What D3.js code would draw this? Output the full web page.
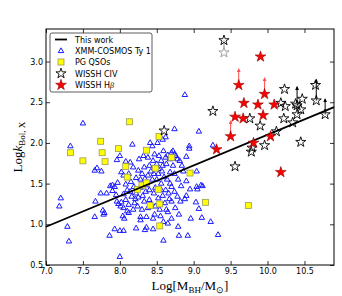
<!DOCTYPE html>
<html lang="en">
<head>
  <meta charset="UTF-8">
  <script src="https://d3js.org/d3.v7.min.js"></script>
  <title>kBol vs MBH</title>
  <style>
    body { margin: 0; background: #fff; }
    .tick text { font-family: "DejaVu Sans", sans-serif; font-size: 8px; fill: #000; }
    .lab { font-family: "Liberation Serif", serif; font-size: 13px; fill: #000; }
    .leg { font-family: "DejaVu Sans", sans-serif; font-size: 8px; fill: #000; }
  </style>
</head>
<body>
<div id="chart"></div>
<script>

// XMM-COSMOS type 1 AGN
var xmmCosmos = [
  [7.20,1.32],[7.18,1.22],[7.29,0.97],[7.31,0.79],[7.33,1.96],[7.50,2.24],[7.66,1.66],[7.69,1.69],
  [7.75,1.65],[7.67,1.28],[7.66,1.09],[7.74,1.38],[7.82,1.38],[7.77,1.17],[7.78,1.12],[7.79,1.14],
  [7.86,0.86],[7.93,0.94],[8.00,0.92],[8.05,0.92],[8.00,0.60],[7.87,1.47],[7.93,1.46],[7.90,1.41],
  [7.96,1.28],[7.98,1.25],[8.02,1.27],[8.08,1.30],[8.12,1.24],[8.01,1.22],[8.05,1.20],[8.10,1.16],
  [8.04,1.10],[8.06,1.07],[8.12,1.14],[8.18,1.18],[8.21,1.31],[8.22,0.95],[8.24,1.22],[8.28,1.09],
  [8.14,1.40],[8.25,1.33],[8.28,1.05],[8.17,1.98],[8.00,1.84],[7.96,1.79],[8.08,1.77],[8.26,1.80],
  [8.32,1.84],[8.02,1.64],[8.05,1.60],[8.22,1.57],[8.28,1.55],[7.90,1.48],[7.97,1.51],[8.08,1.49],
  [8.19,1.46],[8.15,1.52],[8.12,1.62],[8.18,1.70],[8.25,1.66],[8.30,1.62],[8.33,1.70],[8.14,1.76],
  [8.22,1.38],[8.31,1.35],[8.16,1.34],[8.33,1.28],[8.30,1.18],[8.10,1.42],[8.05,1.37],[8.20,1.26],
  [7.95,1.36],[8.41,2.00],[8.44,1.96],[8.51,2.00],[8.58,2.04],[8.62,2.07],[8.74,2.17],[8.88,2.59],
  [9.07,2.14],[9.26,1.97],[8.94,1.96],[8.94,1.93],[8.47,1.86],[8.59,1.90],[8.65,1.85],[8.70,1.88],
  [8.74,1.86],[8.76,1.84],[8.72,1.90],[8.81,1.78],[8.90,1.83],[8.56,1.78],[8.63,1.74],[8.72,1.72],
  [8.40,1.72],[8.45,1.78],[8.50,1.74],[8.38,1.82],[8.42,1.65],[9.04,1.65],[8.86,1.65],[8.68,1.64],
  [8.57,1.65],[8.52,1.62],[8.60,1.58],[8.64,1.55],[8.79,1.55],[8.90,1.53],[8.70,1.46],[8.83,1.47],
  [9.04,1.46],[9.10,1.48],[8.56,1.50],[8.48,1.45],[8.44,1.55],[8.38,1.60],[8.62,1.42],[8.66,1.38],
  [8.58,1.35],[8.52,1.32],[8.46,1.38],[8.40,1.42],[8.36,1.48],[8.74,1.40],[8.78,1.34],[8.82,1.28],
  [8.95,1.43],[9.05,1.43],[9.12,1.47],[8.90,1.35],[8.88,1.31],[9.03,1.27],[9.07,1.19],[8.67,1.31],
  [8.70,1.28],[8.61,1.26],[8.63,1.18],[8.65,1.15],[8.54,1.18],[8.48,1.22],[8.42,1.25],[8.38,1.20],
  [8.36,1.09],[8.45,1.07],[8.70,1.07],[8.59,1.03],[8.65,1.01],[8.96,1.07],[9.11,1.08],[9.23,1.03],
  [8.79,0.97],[8.36,0.96],[8.45,0.94],[8.34,0.93],[8.80,0.86],[8.92,0.86],[9.33,0.87],[8.59,0.80],
  [8.40,1.30],[8.47,1.12],[8.55,1.10],[8.75,1.20],[8.80,1.12],[8.56,1.42],[8.50,1.55],[8.35,1.40],
  [8.28,1.45],[8.68,1.50],[8.74,1.62],[8.84,1.72],[8.34,1.56],[8.52,1.68],[8.46,1.62],[8.58,1.72],
  [8.78,1.80],[8.68,1.80],[8.53,1.84],[8.62,1.82]
];

// PG QSOs
var pgQsos = [
  [8.13,2.26],[7.74,2.02],[7.33,1.88],[7.76,1.88],[7.98,1.93],[7.50,1.78],[7.80,1.77],[8.08,1.71],
  [8.10,1.58],[8.30,1.48],[8.53,2.08],[8.36,1.91],[8.70,1.82],[8.48,1.69],[8.95,1.63],[8.36,1.51],
  [8.24,1.43],[8.52,1.43],[8.41,1.23],[8.54,1.25],[8.54,0.98],[9.16,1.27],[9.74,1.23]
];

// WISSH CIV (open stars)
var wisshCiv = [
  [9.41,3.26],[9.26,2.39],[10.23,2.66],[10.65,2.71],[10.66,2.52],[10.40,2.46],[10.78,2.35],[10.47,2.54],
  [10.18,2.49],[10.24,2.45],[10.38,2.48],[10.45,2.41],[10.40,2.35],[10.22,2.30],[10.34,2.25],[9.76,2.30],
  [9.90,2.21],[10.12,2.14],[10.45,2.01],[9.96,1.97],[9.79,1.94],[9.78,1.89],[9.56,1.71],[8.60,2.15]
];
var wisshCivGrey = [[9.41,3.11,3.26]];
var wisshCivLimits = [[10.40,2.46,2.69],[10.66,2.52,2.78],[10.78,2.35,2.54]];

// WISSH Hbeta (filled stars)
var wisshHb = [
  [9.905,3.06],[9.61,2.71],[9.96,2.60],[9.68,2.49],[9.87,2.47],[10.09,2.47],[9.56,2.32],[9.67,2.30],
  [9.94,2.34],[9.50,2.08],[10.04,2.08],[9.81,2.00],[9.31,1.92],[10.18,1.64]
];
var wisshHbLimits = [[9.61,2.71,2.91],[9.96,2.60,2.80],[9.50,2.08,2.27]];

// this work relation
var fitLine = [[7.0,0.97],[10.9,2.44]];

var xTicks = [7.0,7.5,8.0,8.5,9.0,9.5,10.0,10.5];
var yTicks = [0.5,1.0,1.5,2.0,2.5,3.0];

var W = 342, H = 296;
var margin = {top: 29, right: 8, bottom: 31, left: 46};
var width = W - margin.left - margin.right,
    height = H - margin.top - margin.bottom;

var svg = d3.select("#chart").append("svg")
    .attr("width", W).attr("height", H);
var g = svg.append("g")
    .attr("transform", "translate(" + margin.left + "," + margin.top + ")");

var x = d3.scaleLinear().domain([7.0, 10.9]).range([0, width]);
var y = d3.scaleLinear().domain([0.5, 3.4]).range([height, 0]);

var defs = svg.append("defs");
function arrowMarker(id, col) {
  defs.append("marker").attr("id", id)
    .attr("viewBox", "0 0 6 6").attr("refX", 5).attr("refY", 3)
    .attr("markerWidth", 4).attr("markerHeight", 4).attr("orient", "auto")
    .attr("markerUnits", "userSpaceOnUse")
    .append("path").attr("d", "M0,0 L6,3 L0,6 Z").attr("fill", col);
}
arrowMarker("arrR", "#ff4d4d");
arrowMarker("arrK", "#000");

// axes with inward ticks on all sides
g.append("g").attr("transform", "translate(0," + height + ")")
  .call(d3.axisBottom(x).tickValues(xTicks).tickSizeInner(-4).tickSizeOuter(0).tickPadding(3).tickFormat(d3.format(".1f")));
g.append("g")
  .call(d3.axisLeft(y).tickValues(yTicks).tickSizeInner(-4).tickSizeOuter(0).tickPadding(3).tickFormat(d3.format(".1f")));
g.append("g")
  .call(d3.axisTop(x).tickValues(xTicks).tickSizeInner(-4).tickSizeOuter(0).tickFormat(""));
g.append("g").attr("transform", "translate(" + width + ",0)")
  .call(d3.axisRight(y).tickValues(yTicks).tickSizeInner(-4).tickSizeOuter(0).tickFormat(""));
g.selectAll(".domain").remove();
g.selectAll(".tick line").attr("stroke", "#000").attr("stroke-width", 0.8);

var star = d3.symbol().type(d3.symbolStar);
var tri = d3.symbol().type(d3.symbolTriangle).size(13);

g.selectAll(".xmm").data(xmmCosmos).enter().append("path")
  .attr("class", "xmm")
  .attr("transform", function(d) { return "translate(" + x(d[0]) + "," + y(d[1]) + ")"; })
  .attr("d", tri)
  .attr("fill", "none").attr("stroke", "#1a1aff").attr("stroke-width", 1);

g.selectAll(".pg").data(pgQsos).enter().append("rect")
  .attr("class", "pg")
  .attr("x", function(d) { return x(d[0]) - 3; })
  .attr("y", function(d) { return y(d[1]) - 3; })
  .attr("width", 6).attr("height", 6)
  .attr("fill", "#ffff00").attr("stroke", "#9a9a5a").attr("stroke-width", 0.8);

g.append("line")
  .attr("x1", x(fitLine[0][0])).attr("y1", y(fitLine[0][1]))
  .attr("x2", x(fitLine[1][0])).attr("y2", y(fitLine[1][1]))
  .attr("stroke", "#000").attr("stroke-width", 1.8);

// limits
g.selectAll(".greyLink").data(wisshCivGrey).enter().append("line")
  .attr("x1", function(d) { return x(d[0]); }).attr("x2", function(d) { return x(d[0]); })
  .attr("y1", function(d) { return y(d[1]); }).attr("y2", function(d) { return y(d[2]); })
  .attr("stroke", "#999").attr("stroke-width", 1);
g.selectAll(".civLim").data(wisshCivLimits).enter().append("line")
  .attr("x1", function(d) { return x(d[0]); }).attr("x2", function(d) { return x(d[0]); })
  .attr("y1", function(d) { return y(d[1]); }).attr("y2", function(d) { return y(d[2]); })
  .attr("stroke", "#000").attr("stroke-width", 1).attr("marker-end", "url(#arrK)");
g.selectAll(".hbLim").data(wisshHbLimits).enter().append("line")
  .attr("x1", function(d) { return x(d[0]); }).attr("x2", function(d) { return x(d[0]); })
  .attr("y1", function(d) { return y(d[1]); }).attr("y2", function(d) { return y(d[2]); })
  .attr("stroke", "#ff4d4d").attr("stroke-width", 1).attr("marker-end", "url(#arrR)");

g.selectAll(".grey").data(wisshCivGrey).enter().append("path")
  .attr("transform", function(d) { return "translate(" + x(d[0]) + "," + y(d[1]) + ")"; })
  .attr("d", star.size(32)).attr("fill", "#fff").attr("stroke", "#999").attr("stroke-width", 0.9);

g.selectAll(".civ").data(wisshCiv).enter().append("path")
  .attr("class", "civ")
  .attr("transform", function(d) { return "translate(" + x(d[0]) + "," + y(d[1]) + ")"; })
  .attr("d", star.size(32)).attr("fill", "none").attr("stroke", "#000").attr("stroke-width", 0.9);

g.selectAll(".hb").data(wisshHb).enter().append("path")
  .attr("class", "hb")
  .attr("transform", function(d) { return "translate(" + x(d[0]) + "," + y(d[1]) + ")"; })
  .attr("d", star.size(36)).attr("fill", "#ff0000").attr("stroke", "#8b0000").attr("stroke-width", 0.6);

// frame
g.append("rect").attr("width", width).attr("height", height)
  .attr("fill", "none").attr("stroke", "#000").attr("stroke-width", 1);

// legend
var leg = g.append("g").attr("transform", "translate(4,4)");
leg.append("rect").attr("width", 102).attr("height", 59).attr("rx", 2)
  .attr("fill", "#fff").attr("stroke", "#333").attr("stroke-width", 0.8);
var rows = [6.5, 18, 29, 40.5, 52];
leg.append("line").attr("x1", 5).attr("x2", 17).attr("y1", rows[0]).attr("y2", rows[0])
  .attr("stroke", "#000").attr("stroke-width", 1.8);
leg.append("path").attr("transform", "translate(11," + rows[1] + ")").attr("d", tri)
  .attr("fill", "none").attr("stroke", "#1a1aff");
leg.append("rect").attr("x", 8).attr("y", rows[2] - 3).attr("width", 6).attr("height", 6)
  .attr("fill", "#ffff00").attr("stroke", "#9a9a5a").attr("stroke-width", 0.8);
leg.append("path").attr("transform", "translate(11," + rows[3] + ")").attr("d", star.size(32))
  .attr("fill", "none").attr("stroke", "#000").attr("stroke-width", 0.9);
leg.append("path").attr("transform", "translate(11," + rows[4] + ")").attr("d", star.size(36))
  .attr("fill", "#ff0000").attr("stroke", "#8b0000").attr("stroke-width", 0.6);
var names = ["This work", "XMM-COSMOS Ty 1", "PG QSOs", "WISSH CIV"];
names.forEach(function(n, i) {
  leg.append("text").attr("class", "leg").attr("x", 25).attr("y", rows[i] + 3).text(n);
});
var hbText = leg.append("text").attr("class", "leg").attr("x", 25).attr("y", rows[4] + 3);
hbText.append("tspan").text("WISSH H");
hbText.append("tspan").style("font-family", "Liberation Serif, serif").style("font-style", "italic").text("β");

// axis labels
var xl = svg.append("text").attr("class", "lab").attr("text-anchor", "middle")
  .attr("x", margin.left + width / 2).attr("y", 290);
xl.append("tspan").text("Log[M");
xl.append("tspan").attr("baseline-shift", "-3").style("font-size", "9px").text("BH");
xl.append("tspan").text("/M");
xl.append("tspan").attr("baseline-shift", "-3").style("font-size", "9px").text("⊙");
xl.append("tspan").text("]");

var yl = svg.append("text").attr("class", "lab").attr("text-anchor", "middle")
  .attr("transform", "translate(22," + (margin.top + height / 2) + ") rotate(-90)");
yl.append("tspan").text("Log");
yl.append("tspan").style("font-style", "italic").text("k");
yl.append("tspan").attr("baseline-shift", "-3").style("font-size", "9px").text("Bol, X");

</script>
</body>
</html>
